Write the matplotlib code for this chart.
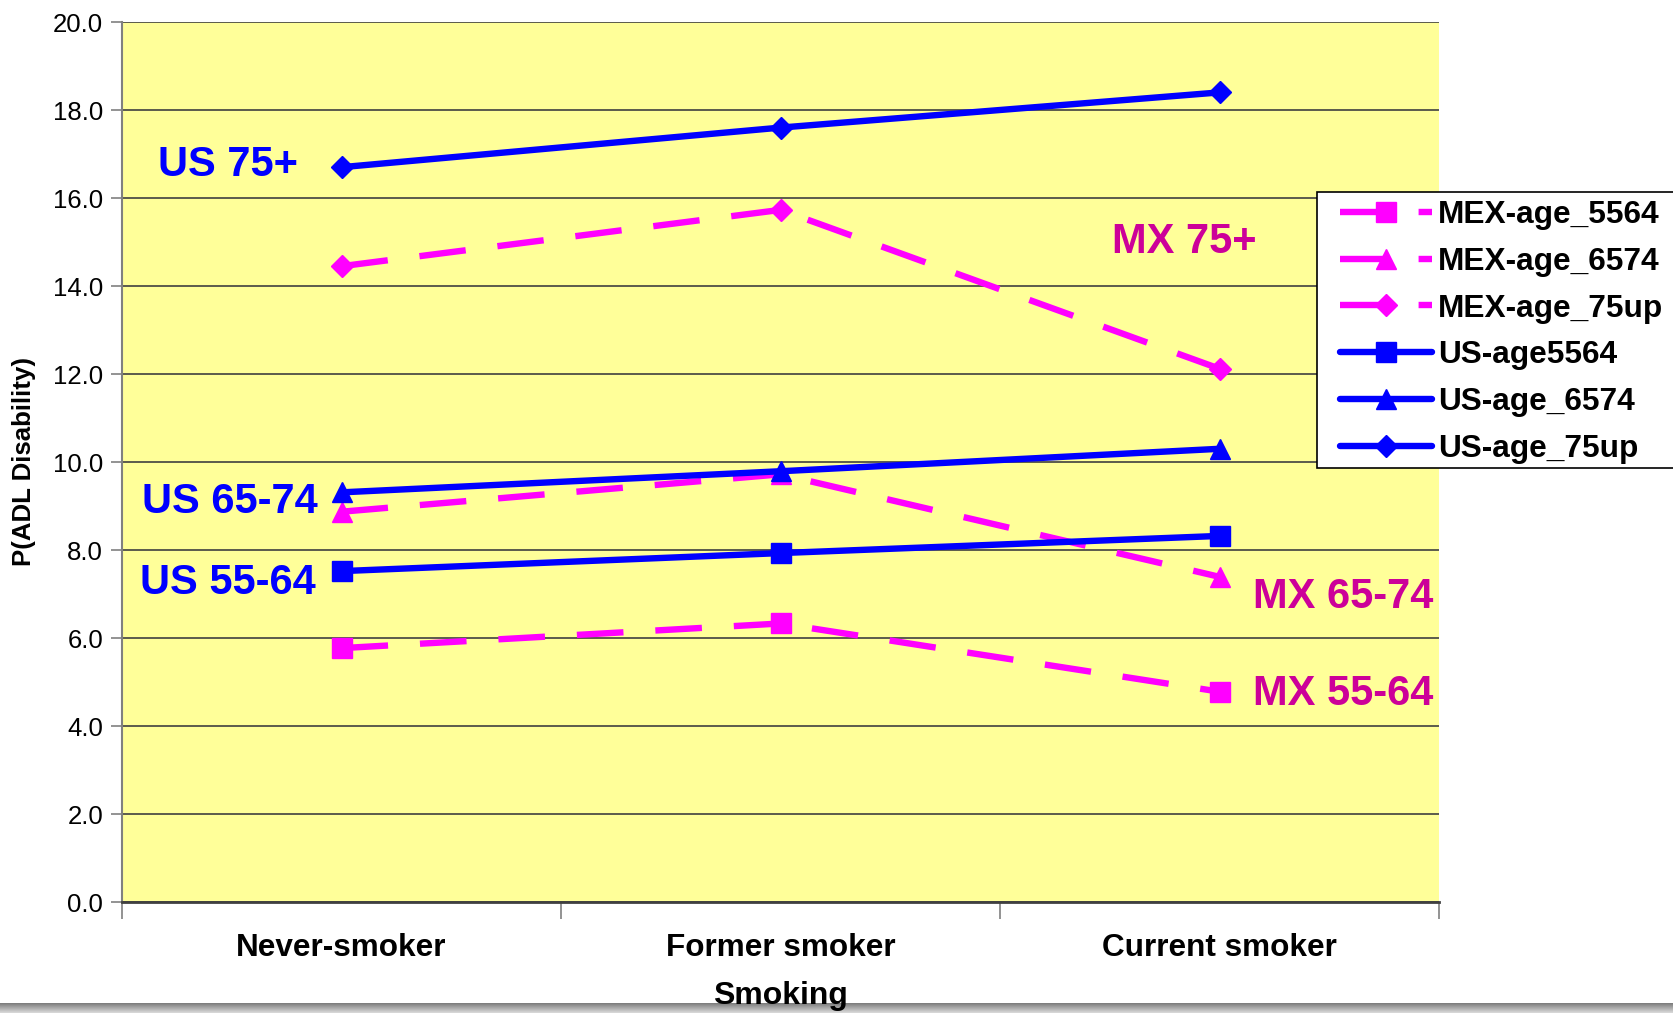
import numpy as np
import matplotlib
matplotlib.use('Agg')
import matplotlib.pyplot as plt
from matplotlib.patches import Rectangle

plt.rcParams['font.family'] = ['Liberation Sans', 'DejaVu Sans']

# Вероятность ADL-инвалидности по статусу курения
categories = ['Never-smoker', 'Former smoker', 'Current smoker']
mex_5564 = [5.77, 6.33, 4.78]
mex_6574 = [8.87, 9.72, 7.39]
mex_75up = [14.45, 15.73, 12.12]
us_5564 = [7.52, 7.93, 8.32]
us_6574 = [9.31, 9.79, 10.30]
us_75up = [16.70, 17.60, 18.40]

PINK = '#FF00FF'
BLUE = '#0000FF'
MX_TEXT = '#CC0099'

W, H = 1674, 1013


def fx(px):
    return px / W


def fy(py):
    return 1 - py / H


def main():
    fig = plt.figure(figsize=(W / 100, H / 100), dpi=100)
    ax = fig.add_axes([fx(122), fy(902), (1439 - 122) / W, (902 - 22) / H])
    ax.set_facecolor('#FFFF99')

    x = np.arange(len(categories))
    dash = dict(lw=4.6, ls=(0, (7.3, 5.0)), dash_capstyle='butt', color=PINK, clip_on=False)
    solid = dict(lw=4.6, solid_capstyle='round', color=BLUE, clip_on=False)

    lines = []
    lines += ax.plot(x, mex_5564, marker='s', ms=15, label='MEX-age_5564', **dash)
    lines += ax.plot(x, mex_6574, marker='^', ms=15, label='MEX-age_6574', **dash)
    lines += ax.plot(x, mex_75up, marker='D', ms=11, label='MEX-age_75up', **dash)
    lines += ax.plot(x, us_5564, marker='s', ms=15, label='US-age5564', **solid)
    lines += ax.plot(x, us_6574, marker='^', ms=15, label='US-age_6574', **solid)
    lines += ax.plot(x, us_75up, marker='D', ms=11, label='US-age_75up', **solid)

    ax.set_xlim(-0.5, 2.5)
    ax.set_ylim(0, 20)
    ax.set_yticks(np.arange(0, 21, 2))
    ax.set_yticklabels(['%.1f' % v for v in np.arange(0, 21, 2)], fontsize=18.5)
    ax.set_xticks(x)
    ax.set_xticklabels(categories, fontsize=22.7, fontweight='bold')
    ax.set_xticks([-0.5, 0.5, 1.5, 2.5], minor=True)
    ax.tick_params(axis='x', which='major', length=0, pad=22)
    ax.tick_params(axis='x', which='minor', length=12, width=1.2, color='#808080')
    ax.tick_params(axis='y', length=8, width=1.2, color='#808080', pad=5.5)

    ax.yaxis.grid(True, color='#404040', lw=1.2)
    ax.set_axisbelow(True)
    for side in ('top', 'right'):
        ax.spines[side].set_visible(False)
    ax.spines['left'].set_color('#808080')
    ax.spines['left'].set_linewidth(1.5)
    ax.spines['bottom'].set_color('#404040')
    ax.spines['bottom'].set_linewidth(2)

    # подписи групп прямо на графике
    bold = dict(fontsize=30, fontweight='bold', va='center')
    ax.text(-0.10, 16.75, 'US 75+', color=BLUE, ha='right', **bold)
    ax.text(-0.054, 9.09, 'US 65-74', color=BLUE, ha='right', **bold)
    ax.text(-0.058, 7.25, 'US 55-64', color=BLUE, ha='right', **bold)
    ax.text(1.755, 14.99, 'MX 75+', color=MX_TEXT, ha='left', **bold)
    ax.text(2.076, 6.93, 'MX 65-74', color=MX_TEXT, ha='left', **bold)
    ax.text(2.076, 4.72, 'MX 55-64', color=MX_TEXT, ha='left', **bold)

    # рамка легенды, уходит за правый край
    fig.patches.append(Rectangle((fx(1317), fy(468)), (1700 - 1317) / W, (468 - 192) / H,
                                 transform=fig.transFigure, facecolor='white',
                                 edgecolor='black', lw=1.2, zorder=1))
    fig.legend(handles=lines, loc='upper left', bbox_to_anchor=(fx(1340), fy(200)),
               frameon=False, borderpad=0, borderaxespad=0,
               prop=dict(weight='bold', size=22.8), handlelength=2.9,
               handletextpad=0.2, labelspacing=0.53)

    fig.text(fx(24), fy(461), 'P(ADL Disability)', rotation=90, ha='center', va='center',
             fontsize=18.6, fontweight='bold')

    # серая полоса внизу
    band = fig.add_axes([0, 0, 1, 10 / H])
    band.imshow(np.linspace(0.45, 0.85, 20).reshape(-1, 1), cmap='gray', vmin=0, vmax=1,
                aspect='auto', extent=(0, 1, 0, 1))
    band.axis('off')

    fig.text(fx(780), fy(1011), 'Smoking', ha='center', va='bottom', fontsize=23,
             fontweight='bold', zorder=5)

    fig.savefig('out.png', dpi=100)


if __name__ == '__main__':
    main()
